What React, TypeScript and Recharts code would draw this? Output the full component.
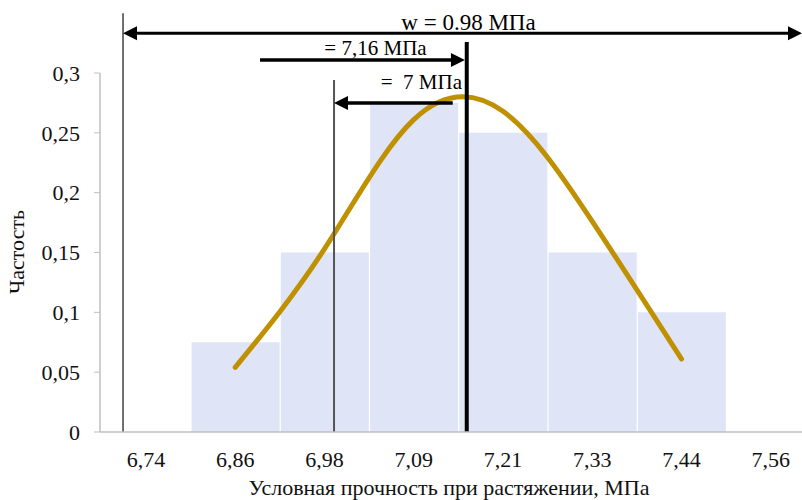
import React from "react"
import { Bar, ComposedChart, Line, ReferenceLine, XAxis, YAxis } from "recharts"

// bin labels (МПа) and histogram / density values
const bins = ["6,74", "6,86", "6,98", "7,09", "7,21", "7,33", "7,44", "7,56"]
const binIndex = [1, 2, 3, 4, 5, 6]
const frequency = [0.075, 0.15, 0.275, 0.25, 0.15, 0.1]
const density = [0.054, 0.153, 0.261, 0.268, 0.176, 0.061]
const yTicks = [0, 0.05, 0.1, 0.15, 0.2, 0.25, 0.3]

// annotation positions, in bin-index units along x
const leftEdge = -0.257
const rightEdge = 7.35
const meanX = 3.594
const modeX = 2.107
const meanArrowStart = 1.278
const modeArrowStart = 3.437

const data = binIndex.map((x, i) => ({ x, freq: frequency[i], curve: density[i] }))

const font = '"Liberation Serif", "Times New Roman", serif'

type ArrowOpts = {
  start?: boolean
  end?: boolean
  width: number
  text?: string
  dx?: number
  dy?: number
  fontSize?: number
}

function arrow(o: ArrowOpts) {
  return (p: any) => {
    const { x1, y1, x2, y2 } = p
    const dir = Math.sign(x2 - x1) || 1
    const h = 14
    const hw = 7
    const lx1 = o.start ? x1 + dir * (h - 1) : x1
    const lx2 = o.end ? x2 - dir * (h - 1) : x2
    return (
      <g>
        <line x1={lx1} y1={y1} x2={lx2} y2={y2} stroke="#000" strokeWidth={o.width} />
        {o.start && (
          <polygon points={`${x1},${y1} ${x1 + dir * h},${y1 - hw} ${x1 + dir * h},${y1 + hw}`} fill="#000" />
        )}
        {o.end && (
          <polygon points={`${x2},${y2} ${x2 - dir * h},${y2 - hw} ${x2 - dir * h},${y2 + hw}`} fill="#000" />
        )}
        {o.text && (
          <text
            x={(x1 + x2) / 2 + (o.dx || 0)}
            y={y1 + (o.dy || 0)}
            textAnchor="middle"
            fontFamily={font}
            fontSize={o.fontSize || 21}
            fill="#000"
            style={{ whiteSpace: "pre" }}
          >
            {o.text}
          </text>
        )}
      </g>
    )
  }
}

export default function App() {
  return (
    <div style={{ position: "absolute", left: 0, top: 0 }}>
      <ComposedChart width={802} height={500} data={data} margin={{ top: 73, right: 0, bottom: 0, left: 0 }}>
        <XAxis
          dataKey="x"
          type="number"
          domain={[-0.515, 7.35]}
          allowDataOverflow
          ticks={[0, 1, 2, 3, 4, 5, 6, 7]}
          tickFormatter={(v) => bins[v]}
          height={68}
          tickSize={0}
          tickMargin={19}
          tickLine={false}
          axisLine={{ stroke: "#bfbfbf", strokeWidth: 1.5 }}
          tick={{ fill: "#111", fontSize: 22, fontFamily: font }}
          label={{
            content: () => (
              <text x={449} y={495} textAnchor="middle" fontFamily={font} fontSize={22} fill="#111">
                Условная прочность при растяжении, МПа
              </text>
            ),
          }}
        />
        <YAxis
          type="number"
          domain={[0, 0.3]}
          allowDataOverflow
          ticks={yTicks}
          tickFormatter={(v) => String(v).replace(".", ",")}
          width={100}
          tickSize={6}
          tickMargin={14}
          axisLine={{ stroke: "#bfbfbf", strokeWidth: 1.5 }}
          tickLine={{ stroke: "#bfbfbf" }}
          tick={{ fill: "#111", fontSize: 22, fontFamily: font }}
          label={{
            content: () => (
              <text
                x={24}
                y={252}
                textAnchor="middle"
                transform="rotate(-90, 24, 252)"
                fontFamily={font}
                fontSize={22}
                fill="#111"
              >
                Частость
              </text>
            ),
          }}
        />
        <Bar dataKey="freq" fill="#dfe4f6" barSize={88} isAnimationActive={false} />
        <Line
          dataKey="curve"
          type="natural"
          stroke="#bf9000"
          strokeWidth={5}
          strokeLinecap="round"
          dot={false}
          activeDot={false}
          isAnimationActive={false}
        />
        <ReferenceLine
          segment={[{ x: leftEdge, y: 0 }, { x: leftEdge, y: 0.35 }]}
          ifOverflow="visible"
          stroke="#404040"
          strokeWidth={1.5}
        />
        <ReferenceLine
          segment={[{ x: modeX, y: 0 }, { x: modeX, y: 0.2942 }]}
          ifOverflow="visible"
          stroke="#555"
          strokeWidth={2}
        />
        <ReferenceLine
          segment={[{ x: meanX, y: 0 }, { x: meanX, y: 0.326 }]}
          ifOverflow="visible"
          stroke="#000"
          strokeWidth={4}
        />
        <ReferenceLine
          segment={[{ x: leftEdge, y: 0.3332 }, { x: rightEdge, y: 0.3332 }]}
          ifOverflow="visible"
          shape={arrow({ start: true, end: true, width: 3, text: "w = 0.98 МПа", dx: 6, dy: -3, fontSize: 23 })}
        />
        <ReferenceLine
          segment={[{ x: meanArrowStart, y: 0.3109 }, { x: meanX - 0.02, y: 0.3109 }]}
          ifOverflow="visible"
          shape={arrow({ end: true, width: 3.5, text: "= 7,16 МПа", dx: 13, dy: -5, fontSize: 21 })}
        />
        <ReferenceLine
          segment={[{ x: modeArrowStart, y: 0.2749 }, { x: modeX, y: 0.2749 }]}
          ifOverflow="visible"
          shape={arrow({ end: true, width: 3.5, text: "=\u00a0\u00a07 МПа", dx: 28, dy: -14, fontSize: 21 })}
        />
      </ComposedChart>
    </div>
  )
}
